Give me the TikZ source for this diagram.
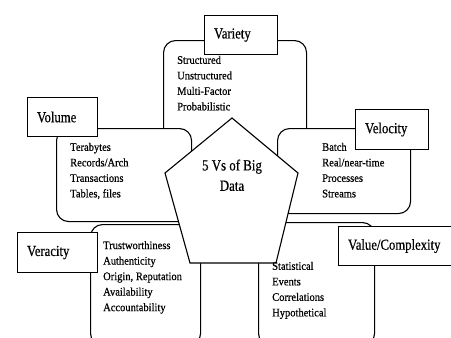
\documentclass[tikz,border=0pt]{standalone}
\usepackage{fontspec}
\setmainfont{Liberation Serif}
\newfontfamily\heavyserif{Liberation Serif}[FakeBold=0.5]
% vertically stretched, slightly heavy text
\newcommand\tallword[2][1.2]{\scalebox{1}[#1]{\heavyserif#2}}
\newcommand\itemlist[1]{\scalebox{1}[1.1]{\heavyserif\begin{tabular}{@{}l@{}}#1\end{tabular}}}
\begin{document}
\begin{tikzpicture}[x=1pt,y=-1pt,
  panel/.style={draw, line width=1.1pt, rounded corners=12pt, fill=white,
    anchor=north west, inner sep=0pt},
  tag/.style={draw, line width=1.1pt, fill=white, anchor=north west,
    align=left, inner xsep=9.5pt, inner ysep=0pt,
    font=\fontsize{12.7}{14}\selectfont},
  items/.style={anchor=west, inner sep=0pt,
    font=\fontsize{10.5}{14.1}\selectfont},
  core/.style={align=center, inner sep=0pt,
    font=\fontsize{12.9}{15}\selectfont}]
\useasboundingbox (0,0) rectangle (451,338);
\clip (0,0) rectangle (451,338);

% rounded panels, back to front
\node[panel, minimum width=143pt, minimum height=128pt] (varietyP) at (163,40) {};
\node[panel, minimum width=135pt, minimum height=93pt] (volumeP) at (56,128) {};
\node[panel, minimum width=133pt, minimum height=85pt] (velocityP) at (277,128) {};
\node[panel, minimum width=110pt, minimum height=121pt] (veracityP) at (90,224) {};
\node[panel, minimum width=116pt, minimum height=123pt] (valueP) at (258,222) {};

% central pentagon
\coordinate (pT) at (232,118);
\coordinate (pR) at (298,173);
\coordinate (pBR) at (276,263);
\coordinate (pBL) at (190,263);
\coordinate (pL) at (165,173);
\draw[line width=1.1pt, fill=white] (pT) -- (pR) -- (pBR) -- (pBL) -- (pL) -- cycle;
\node[core] (core) at (232,177) {\scalebox{1}[1.2]{\heavyserif\begin{tabular}{@{}c@{}}5 Vs of Big\\[2pt]Data\end{tabular}}};

% title tags
\node[tag, text width=54pt, minimum height=39pt] (variety) at (204,15) {\tallword{Variety}};
\node[tag, text width=51pt, minimum height=39pt] (volume) at (27,97) {\tallword{Volume}};
\node[tag, text width=54pt, minimum height=40pt] (velocity) at (355,109) {\tallword{Velocity}};
\node[tag, text width=61pt, minimum height=40pt] (veracity) at (17,232) {\tallword{Veracity}};
\node[tag, text width=110pt, minimum height=39pt] (value) at (338,226) {\tallword{Value/Complexity}};

% item lists
\node[items] (varietyI) at (177,84) {\itemlist{Structured\\Unstructured\\Multi-Factor\\Probabilistic}};
\node[items] (volumeI) at (70,171) {\itemlist{Terabytes\\Records/Arch\\Transactions\\Tables, files}};
\node[items] (velocityI) at (322,171) {\itemlist{Batch\\Real/near-time\\Processes\\Streams}};
\node[items] (veracityI) at (103,277) {\itemlist{Trustworthiness\\Authenticity\\Origin, Reputation\\Availability\\Accountability}};
\node[items] (valueI) at (272,290) {\itemlist{Statistical\\Events\\Correlations\\Hypothetical}};
\end{tikzpicture}
\end{document}
